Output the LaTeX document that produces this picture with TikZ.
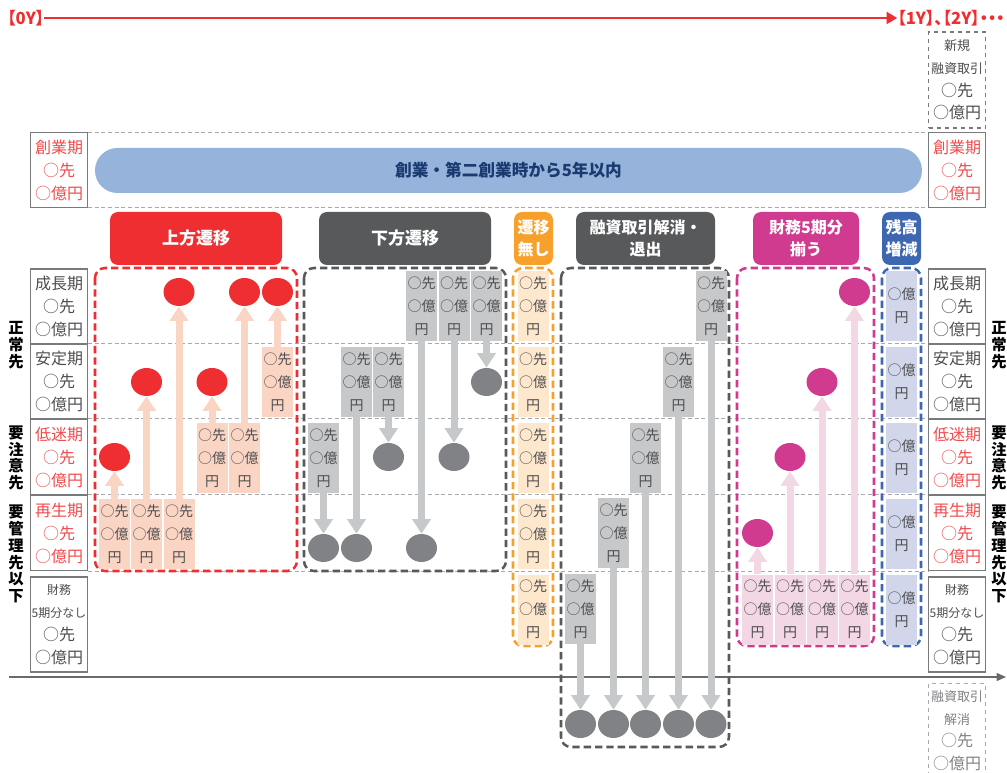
\documentclass[tikz,border=0pt]{standalone}
\usepackage{fontspec}
\setmainfont{Noto Sans CJK JP}
\newfontfamily\jpp{Noto Sans CJK JP}[RawFeature={+palt}]
\usetikzlibrary{shapes.geometric,arrows.meta}
\definecolor{cred}{HTML}{EE2E31}
\definecolor{ctred}{HTML}{F04A4C}
\definecolor{cdark}{HTML}{58595B}
\definecolor{corange}{HTML}{F7A12C}
\definecolor{clorange}{HTML}{FDE7CD}
\definecolor{cmag}{HTML}{D13B8F}
\definecolor{clpink}{HTML}{F3D7E5}
\definecolor{cblue}{HTML}{3E67B1}
\definecolor{clav}{HTML}{D1D6EB}
\definecolor{csalmon}{HTML}{FBD5C4}
\definecolor{cbgray}{HTML}{C7C8CA}
\definecolor{cdot}{HTML}{808285}
\definecolor{cbar}{HTML}{95B3DB}
\definecolor{cnavy}{HTML}{1B3B70}
\definecolor{ctext}{HTML}{4D4D4F}
\definecolor{crow}{HTML}{A7A9AC}
\begin{document}
\begin{tikzpicture}[x=0.75pt,y=-0.75pt,
  rowline/.style={draw=crow,line width=0.75pt,dash pattern=on 3pt off 2pt},
  grp/.style={line width=1.9pt,dash pattern=on 5.5pt off 3pt,rounded corners=7.5pt},
  side/.style={draw=cdark!80,line width=1.1pt,rectangle,inner sep=0pt,minimum width=43pt,minimum height=56.25pt,align=center,font=\fontsize{12pt}{17.25pt}\selectfont,text=ctext},
  hdr/.style={rectangle,rounded corners=6pt,inner sep=0pt,minimum height=39.75pt,align=center,text=white,font=\bfseries\fontsize{12pt}{16.5pt}\selectfont},
  sb/.style={rectangle,inner sep=0pt,minimum width=23.25pt,minimum height=52.5pt,align=center,text=ctext,font=\fontsize{10.5pt}{17.25pt}\selectfont},
  dot/.style={ellipse,inner sep=0pt,minimum width=23.25pt,minimum height=21pt},
  arr/.style={line width=5.25pt,-{Triangle[width=13.5pt,length=11pt]}},
  vlab/.style={align=center,inner sep=0pt,font=\bfseries\fontsize{11.5pt}{12.6pt}\selectfont,text=black},
  toplbl/.style={inner sep=0pt,text=cred,font=\jpp\bfseries\fontsize{12.5pt}{14pt}\selectfont}
]
\useasboundingbox (0,0) rectangle (1007,773);

% row guide lines
\foreach \yy in {133,208,344,419,495,571} \draw[rowline] (88,\yy) -- (929,\yy);

% top timeline
\node[toplbl,anchor=west] (y0) at (7,18) {【0Y】};
\node[toplbl,anchor=east] (y1) at (1005,18) {【1Y】、【2Y】・・・};
\draw[draw=cred,line width=1.6pt,-{Triangle[width=9pt,length=8pt]}] (y0.east) -- (y1.west);

% new financing box
\node[side,dashed,minimum width=42.5pt,minimum height=72pt,font=\fontsize{12pt}{17pt}\selectfont] (nw) at (957,80)
  {{\fontsize{9.75pt}{17pt}\selectfont 新規}\\{\fontsize{9.75pt}{17pt}\selectfont 融資取引}\\○先\\○億円};

% founding row
\node[side,text=ctred] (L0) at (59,170) {創業期\\○先\\○億円};
\node[side,text=ctred] (R0) at (957,170) {創業期\\○先\\○億円};
\node[fill=cbar,rounded corners=16.8pt,minimum width=620.25pt,minimum height=33.75pt,inner sep=0pt,text=cnavy,font=\bfseries\fontsize{12.5pt}{14pt}\selectfont] (bar) at (508.5,170.5) {創業・第二創業時から5年以内};

% headers
\node[hdr,fill=cred,minimum width=129pt,font=\bfseries\fontsize{12.75pt}{16pt}\selectfont] (h1) at (196,238.5) {上方遷移};
\node[hdr,fill=cdark,minimum width=129pt,font=\bfseries\fontsize{12.75pt}{16pt}\selectfont] (h2) at (405,238.5) {下方遷移};
\node[hdr,fill=corange,minimum width=29.25pt] (h3) at (533.5,238.5) {遷移\\無し};
\node[hdr,fill=cdark,minimum width=104.25pt] (h4) at (645.5,238.5) {融資取引解消・\\退出};
\node[hdr,fill=cmag,minimum width=79.5pt] (h5) at (806,238.5) {財務5期分\\揃う};
\node[hdr,fill=cblue,minimum width=29.25pt] (h6) at (901.5,238.5) {残高\\増減};

% side boxes
\node[side] (L1) at (59,306.5) {成長期\\○先\\○億円};
\node[side] (L2) at (59,381.5) {安定期\\○先\\○億円};
\node[side,text=ctred,minimum height=57pt] (L3) at (59,457) {低迷期\\○先\\○億円};
\node[side,text=ctred] (L4) at (59,533) {再生期\\○先\\○億円};
\node[side,minimum height=71.25pt] (L5) at (59,624.5) {{\fontsize{9pt}{17pt}\selectfont 財務}\\{\fontsize{9pt}{17pt}\selectfont 5期分なし}\\○先\\○億円};
\node[side] (R1) at (957,306.5) {成長期\\○先\\○億円};
\node[side] (R2) at (957,381.5) {安定期\\○先\\○億円};
\node[side,text=ctred,minimum height=57pt] (R3) at (957,457) {低迷期\\○先\\○億円};
\node[side,text=ctred] (R4) at (957,533) {再生期\\○先\\○億円};
\node[side,minimum height=71.25pt] (R5) at (957,624.5) {{\fontsize{9pt}{17pt}\selectfont 財務}\\{\fontsize{9pt}{17pt}\selectfont 5期分なし}\\○先\\○億円};

% exit box bottom right
\node[side,draw=crow,dashed,text=cdot,minimum width=42.5pt,minimum height=70.5pt,anchor=north,font=\fontsize{12pt}{17pt}\selectfont] (ex) at (957,683)
  {{\fontsize{9.75pt}{17pt}\selectfont 融資取引}\\{\fontsize{9.75pt}{17pt}\selectfont 解消}\\○先\\○億円};

% vertical labels
\node[vlab] (vl1) at (16,345) {正\\常\\先};
\node[vlab] (vl2) at (16,458) {要\\注\\意\\先};
\node[vlab] (vl3) at (16,554) {要\\管\\理\\先\\以\\下};
\node[vlab] (vr1) at (999,345) {正\\常\\先};
\node[vlab] (vr2) at (999,458) {要\\注\\意\\先};
\node[vlab] (vr3) at (999,554) {要\\管\\理\\先\\以\\下};

% axis
\coordinate (ax0) at (9,677);
\coordinate (ax1) at (1006,677);
\draw[draw=cdark!90,line width=1.1pt,-{Triangle[width=6pt,length=7pt]}] (ax0) -- (ax1);

% group frames
\draw[grp,draw=cred] (95,268) rectangle (297,571);
\draw[grp,draw=cdark] (304,268) rectangle (506,571);
\draw[grp,draw=corange] (513,268) rectangle (553,646);
\draw[grp,draw=cdark] (561,268) rectangle (729,747);
\draw[grp,draw=cmag] (737,268) rectangle (874,646);
\draw[grp,draw=cblue] (882,268) rectangle (921,646);

% upward (red)
\node[sb,fill=csalmon] (r1) at (114.5,534) {○先\\○億\\円};
\node[sb,fill=csalmon] (r2) at (146.5,534) {○先\\○億\\円};
\node[sb,fill=csalmon] (r3) at (179,534) {○先\\○億\\円};
\node[sb,fill=csalmon] (r4) at (212,458) {○先\\○億\\円};
\node[sb,fill=csalmon] (r5) at (244.5,458) {○先\\○億\\円};
\node[sb,fill=csalmon] (r6) at (277.5,382) {○先\\○億\\円};
\node[dot,fill=cred] (c1) at (114.5,457) {};
\node[dot,fill=cred] (c2) at (146.5,382) {};
\node[dot,fill=cred] (c3) at (179,292) {};
\node[dot,fill=cred] (c4) at (212,382) {};
\node[dot,fill=cred] (c5) at (244.5,292) {};
\node[dot,fill=cred] (c6) at (277.5,292) {};
\foreach \i in {1,...,6} \draw[arr,draw=csalmon] (r\i) -- (c\i);

% downward (gray)
\node[sb,fill=cbgray] (g1) at (421.5,306) {○先\\○億\\円};
\node[sb,fill=cbgray] (g2) at (454,306) {○先\\○億\\円};
\node[sb,fill=cbgray] (g3) at (486.5,306) {○先\\○億\\円};
\node[sb,fill=cbgray] (g4) at (356.5,382) {○先\\○億\\円};
\node[sb,fill=cbgray] (g5) at (388.5,382) {○先\\○億\\円};
\node[sb,fill=cbgray] (g6) at (323.5,458) {○先\\○億\\円};
\node[dot,fill=cdot] (d1) at (421.5,548) {};
\node[dot,fill=cdot] (d2) at (454,457) {};
\node[dot,fill=cdot] (d3) at (486.5,382) {};
\node[dot,fill=cdot] (d4) at (356.5,548) {};
\node[dot,fill=cdot] (d5) at (388.5,457) {};
\node[dot,fill=cdot] (d6) at (323.5,548) {};
\foreach \i in {1,...,6} \draw[arr,draw=cbgray] (g\i) -- (d\i);

% no transition (orange)
\node[sb,fill=clorange] (o1) at (533,306) {○先\\○億\\円};
\node[sb,fill=clorange] (o2) at (533,382) {○先\\○億\\円};
\node[sb,fill=clorange] (o3) at (533,458) {○先\\○億\\円};
\node[sb,fill=clorange] (o4) at (533,534) {○先\\○億\\円};
\node[sb,fill=clorange] (o5) at (533,609.5) {○先\\○億\\円};

% exit (gray)
\node[sb,fill=cbgray] (e1) at (580.5,609) {○先\\○億\\円};
\node[sb,fill=cbgray] (e2) at (613.5,533) {○先\\○億\\円};
\node[sb,fill=cbgray] (e3) at (645.5,458) {○先\\○億\\円};
\node[sb,fill=cbgray] (e4) at (678.5,382) {○先\\○億\\円};
\node[sb,fill=cbgray] (e5) at (711,306) {○先\\○億\\円};
\node[dot,fill=cdot] (f1) at (580.5,724) {};
\node[dot,fill=cdot] (f2) at (613.5,724) {};
\node[dot,fill=cdot] (f3) at (645.5,724) {};
\node[dot,fill=cdot] (f4) at (678.5,724) {};
\node[dot,fill=cdot] (f5) at (711,724) {};
\foreach \i in {1,...,5} \draw[arr,draw=cbgray] (e\i) -- (f\i);

% five-period (magenta)
\node[sb,fill=clpink] (m1) at (757.5,609.5) {○先\\○億\\円};
\node[sb,fill=clpink] (m2) at (790,609.5) {○先\\○億\\円};
\node[sb,fill=clpink] (m3) at (822,609.5) {○先\\○億\\円};
\node[sb,fill=clpink] (m4) at (854.5,609.5) {○先\\○億\\円};
\node[dot,fill=cmag] (n1) at (757.5,533) {};
\node[dot,fill=cmag] (n2) at (790,457) {};
\node[dot,fill=cmag] (n3) at (822,382) {};
\node[dot,fill=cmag] (n4) at (854.5,292) {};
\foreach \i in {1,...,4} \draw[arr,draw=clpink] (m\i) -- (n\i);

% balance (blue)
\node[sb,fill=clav] (b1) at (901.5,306) {○億\\円};
\node[sb,fill=clav] (b2) at (901.5,382) {○億\\円};
\node[sb,fill=clav] (b3) at (901.5,458) {○億\\円};
\node[sb,fill=clav] (b4) at (901.5,534) {○億\\円};
\node[sb,fill=clav] (b5) at (901.5,609.5) {○億\\円};
\end{tikzpicture}
\end{document}
